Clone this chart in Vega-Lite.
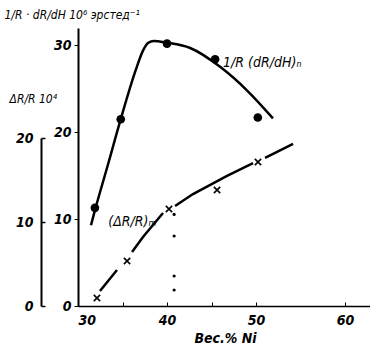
{
  "$schema": "https://vega.github.io/schema/vega-lite/v6.json",
  "width": 292,
  "height": 278,
  "autosize": {"type": "none"},
  "padding": {"left": 78, "top": 28, "right": 0, "bottom": 45},
  "config": {
    "view": {"stroke": null},
    "axis": {
      "grid": false,
      "domainColor": "black",
      "tickColor": "black",
      "labelColor": "black",
      "titleColor": "black",
      "labelFont": "DejaVu Sans Condensed",
      "labelFontStyle": "italic",
      "labelFontWeight": "bold",
      "labelFontSize": 14,
      "titleFont": "DejaVu Sans Condensed",
      "titleFontStyle": "italic",
      "titleFontWeight": "normal",
      "titleFontSize": 12
    }
  },
  "datasets": {
    "curve1": [
      {"x": 31.46, "y": 9.3},
      {"x": 31.9, "y": 11.0},
      {"x": 33.4, "y": 16.4},
      {"x": 34.8, "y": 21.5},
      {"x": 36.5, "y": 27.2},
      {"x": 37.3, "y": 29.4},
      {"x": 37.9, "y": 30.3},
      {"x": 38.5, "y": 30.5},
      {"x": 40.0, "y": 30.3},
      {"x": 42.6, "y": 29.7},
      {"x": 46.0, "y": 27.5},
      {"x": 49.0, "y": 24.8},
      {"x": 51.9, "y": 21.6}
    ],
    "dots1": [
      {"x": 31.9, "y": 11.3},
      {"x": 34.8, "y": 21.5},
      {"x": 40.0, "y": 30.2},
      {"x": 45.4, "y": 28.4},
      {"x": 50.2, "y": 21.7}
    ],
    "curve2": [
      {"seg": "a", "x": 32.47, "y": 1.79},
      {"seg": "a", "x": 34.38, "y": 4.29},
      {"seg": "b", "x": 36.07, "y": 6.43},
      {"seg": "b", "x": 37.3, "y": 8.21},
      {"seg": "b", "x": 39.55, "y": 11.07},
      {"seg": "c", "x": 40.9, "y": 11.9},
      {"seg": "c", "x": 42.92, "y": 13.33},
      {"seg": "c", "x": 46.74, "y": 15.48},
      {"seg": "c", "x": 49.66, "y": 17.02},
      {"seg": "d", "x": 51.01, "y": 17.62},
      {"seg": "d", "x": 54.16, "y": 19.29}
    ],
    "crosses": [
      {"x": 32.13, "y": 0.95},
      {"x": 35.51, "y": 5.36},
      {"x": 40.22, "y": 11.55},
      {"x": 45.62, "y": 13.81},
      {"x": 50.22, "y": 17.14}
    ],
    "specks": [
      {"x": 40.8, "y": 10.9},
      {"x": 40.8, "y": 8.33},
      {"x": 40.8, "y": 3.57},
      {"x": 40.8, "y": 1.9}
    ]
  },
  "layer": [
    {
      "encoding": {
        "x": {
          "field": "x", "type": "quantitative",
          "scale": {"domain": [30, 62.8], "nice": false, "zero": false},
          "axis": {
            "values": [30, 35, 40, 45, 50, 60],
            "labelExpr": "datum.value % 10 === 0 ? datum.label : ''",
            "tickSize": -4,
            "labelPadding": 11,
            "domainWidth": 1.5,
            "title": "Вес.% Ni",
            "titleX": 147,
            "titleY": 25,
            "titleAlign": "center",
            "titleBaseline": "top",
            "titleFontSize": 14,
            "titleFontWeight": "bold"
          }
        },
        "y": {
          "field": "y", "type": "quantitative",
          "scale": {"domain": [0, 32], "nice": false, "zero": true},
          "axis": {
            "orient": "left",
            "values": [0, 10, 20, 30],
            "domainWidth": 2,
            "tickSize": 4,
            "labelPadding": 3,
            "title": "1/R · dR/dH  10⁶ эрстед⁻¹",
            "titleAngle": 0,
            "titleAlign": "left",
            "titleBaseline": "middle",
            "titleX": -74,
            "titleY": -14
          }
        }
      },
      "layer": [
        {"data": {"name": "curve1"}, "mark": {"type": "line", "interpolate": "monotone", "color": "black", "strokeWidth": 2.5}},
        {"data": {"name": "dots1"}, "mark": {"type": "circle", "color": "black", "opacity": 1, "size": 75}},
        {
          "data": {"values": [{"x": 46.3, "y": 28.0, "t": "1/R (dR/dH)ₙ"}]},
          "mark": {"type": "text", "align": "left", "baseline": "middle", "font": "DejaVu Sans Condensed", "fontStyle": "italic", "fontSize": 14, "color": "black"},
          "encoding": {"text": {"field": "t"}}
        }
      ]
    },
    {
      "encoding": {
        "x": {
          "field": "x", "type": "quantitative",
          "scale": {"domain": [30, 62.8], "nice": false, "zero": false},
          "axis": {
            "values": [30, 35, 40, 45, 50, 60],
            "labelExpr": "datum.value % 10 === 0 ? datum.label : ''",
            "tickSize": -4,
            "labelPadding": 11,
            "domainWidth": 1.5,
            "title": "Вес.% Ni",
            "titleX": 147,
            "titleY": 25,
            "titleAlign": "center",
            "titleBaseline": "top",
            "titleFontSize": 14,
            "titleFontWeight": "bold"
          }
        },
        "y": {
          "field": "y", "type": "quantitative",
          "scale": {"domain": [0, 20], "nice": false, "zero": true, "range": [278, 110]},
          "axis": {
            "orient": "left",
            "offset": 37,
            "values": [0, 10, 20],
            "domainWidth": 2,
            "tickSize": -4,
            "tickWidth": 1.5,
            "labelPadding": 12,
            "title": "ΔR/R  10⁴",
            "titleAngle": 0,
            "titleAlign": "left",
            "titleBaseline": "middle",
            "titleX": -32,
            "titleY": 70
          }
        }
      },
      "layer": [
        {"data": {"name": "curve2"}, "mark": {"type": "line", "color": "black", "strokeWidth": 2.5}, "encoding": {"detail": {"field": "seg"}}},
        {"data": {"name": "crosses"}, "mark": {"type": "point", "shape": "M-1,-1L1,1M1,-1L-1,1", "color": "black", "strokeWidth": 1.6, "size": 40, "opacity": 1}},
        {"data": {"name": "specks"}, "mark": {"type": "circle", "color": "black", "opacity": 1, "size": 10}},
        {
          "data": {"values": [{"x": 33.4, "y": 10.0, "t": "(ΔR/R)ₘ"}]},
          "mark": {"type": "text", "align": "left", "baseline": "middle", "font": "DejaVu Sans Condensed", "fontStyle": "italic", "fontSize": 14, "color": "black"},
          "encoding": {"text": {"field": "t"}}
        }
      ]
    }
  ],
  "resolve": {"scale": {"y": "independent"}, "axis": {"y": "independent"}}
}
